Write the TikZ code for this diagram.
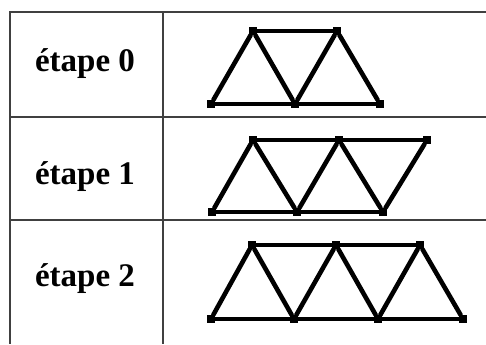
\documentclass[tikz,border=0pt]{standalone}
\usepackage{fontspec}
\setmainfont{Liberation Serif}
\usetikzlibrary{positioning}

\begin{document}
\begin{tikzpicture}[
    x=0.5pt, y=-0.5pt,
    gridline/.style={draw=black!75, line width=0.6pt},
    steplabel/.style={font=\fontsize{16.5}{19}\selectfont\bfseries},
    joint/.style={rectangle, fill=black, minimum size=3.8pt, inner sep=0pt},
    bar/.style={line width=2.3pt, line cap=round, draw=black},
]
\useasboundingbox (0,0) rectangle (486,344);

% --- table -----------------------------------------------------------
\draw[gridline] (486,12) -- (10,12) -- (10,344);
\draw[gridline] (163,12) -- (163,344);
\draw[gridline] (10,117) -- (486,117);
\draw[gridline] (10,220) -- (486,220);

\node[steplabel] (lab0) at (85,64)  {étape 0};
\node[steplabel] (lab1) at (85,177) {étape 1};
\node[steplabel] (lab2) at (85,279) {étape 2};

% --- stage 0 ---------------------------------------------------------
\node[joint] (a0) at (211,104) {};
\node[joint] (b0) at (295,104) {};
\node[joint] (c0) at (380,104) {};
\node[joint] (p0) at (253,31)  {};
\node[joint] (q0) at (337,31)  {};

\draw[bar] (a0) -- (b0) -- (c0);
\draw[bar] (p0) -- (q0);
\draw[bar] (a0) -- (p0) -- (b0) -- (q0) -- (c0);

% --- stage 1 ---------------------------------------------------------
\node[joint] (a1) at (212,212) {};
\node[joint] (b1) at (297,212) {};
\node[joint] (c1) at (383,212) {};
\node[joint] (p1) at (253,140) {};
\node[joint] (q1) at (339,140) {};
\node[joint] (r1) at (427,140) {};

\draw[bar] (a1) -- (b1) -- (c1);
\draw[bar] (p1) -- (q1) -- (r1);
\draw[bar] (a1) -- (p1) -- (b1) -- (q1) -- (c1) -- (r1);

% --- stage 2 ---------------------------------------------------------
\node[joint] (a2) at (211,319) {};
\node[joint] (b2) at (294,319) {};
\node[joint] (c2) at (378,319) {};
\node[joint] (d2) at (463,319) {};
\node[joint] (p2) at (252,245) {};
\node[joint] (q2) at (336,245) {};
\node[joint] (r2) at (420,245) {};

\draw[bar] (a2) -- (b2) -- (c2) -- (d2);
\draw[bar] (p2) -- (q2) -- (r2);
\draw[bar] (a2) -- (p2) -- (b2) -- (q2) -- (c2) -- (r2) -- (d2);

\end{tikzpicture}
\end{document}
